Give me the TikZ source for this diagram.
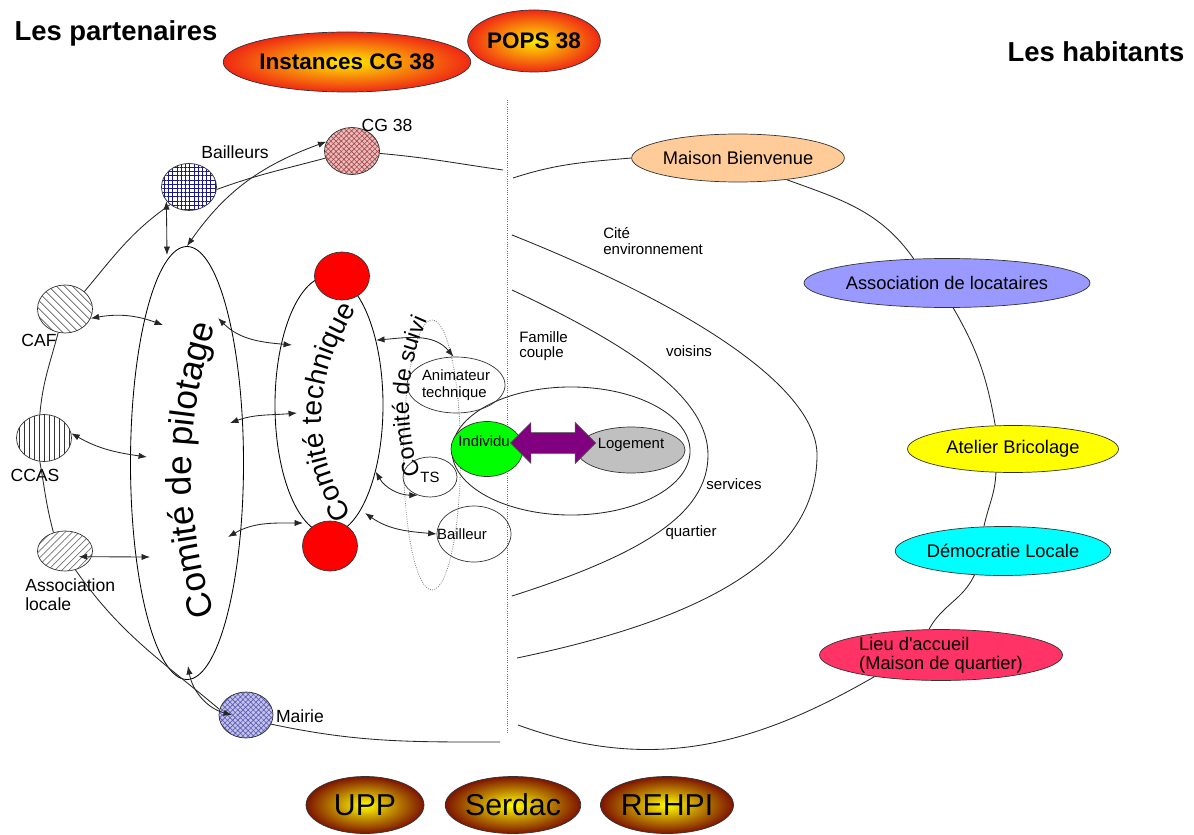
\documentclass[tikz,border=0pt]{standalone}
\usepackage{fontspec}
\setmainfont{Liberation Sans}
\usepackage{xcolor}
\usepackage{tikz}
\usetikzlibrary{shapes.geometric,shapes.arrows,arrows.meta,patterns,patterns.meta,decorations.text}

\newlength{\pxu}
\setlength{\pxu}{0.025cm}

\definecolor{peche}{RGB}{255,204,153}
\definecolor{lavande}{RGB}{153,153,255}
\definecolor{jaune}{RGB}{255,255,0}
\definecolor{turquoise}{RGB}{0,255,255}
\definecolor{framboise}{RGB}{255,51,102}
\definecolor{vert}{RGB}{0,255,0}
\definecolor{rouge}{RGB}{255,0,0}
\definecolor{prune}{RGB}{128,0,128}
\definecolor{grisclair}{RGB}{192,192,192}
\definecolor{flamme}{RGB}{240,40,20}
\definecolor{soleil}{RGB}{255,235,0}
\definecolor{brique}{RGB}{125,20,0}
\definecolor{rose}{RGB}{235,190,190}
\definecolor{brun}{RGB}{170,70,70}
\definecolor{marine}{RGB}{25,25,140}
\definecolor{mauve}{RGB}{195,195,235}
\definecolor{pervenche}{RGB}{90,90,180}

\tikzset{
  lien/.style={line width=0.6pt, draw=black!85},
  bi/.style={line width=0.6pt, draw=black!85, {Latex[length=6pt,width=4.5pt]}-{Latex[length=6pt,width=4.5pt]}},
  titre/.style={inner sep=0pt, font=\bfseries\fontsize{19.5}{22}\selectfont},
  etiquette/.style={inner sep=0pt, font=\fontsize{12.5}{13.5}\selectfont},
  zone/.style={inner sep=0pt, font=\fontsize{10.7}{10.8}\selectfont, align=left},
  partenaire/.style={ellipse, draw=black!80, line width=0.5pt, inner sep=0pt, minimum width=55\pxu, minimum height=47\pxu, preaction={fill=white}},
  comite/.style={ellipse, draw=black, line width=0.6pt, inner sep=0pt},
  pastille/.style={ellipse, draw=black!80, line width=0.5pt, fill=rouge, inner sep=0pt, minimum width=55\pxu, minimum height=48\pxu},
  membre/.style={ellipse, draw=black!80, line width=0.5pt, inner sep=0pt, font=\fontsize{10.6}{12}\selectfont},
  habitant/.style={ellipse, draw=black!80, line width=0.5pt, inner sep=0pt, font=\fontsize{13}{13.5}\selectfont},
  instancehaut/.style={ellipse, draw=black!80, line width=0.5pt, inner sep=0pt, inner color=soleil, outer color=flamme, font=\bfseries\fontsize{16}{18}\selectfont},
  instancebas/.style={ellipse, draw=black!80, line width=0.5pt, inner sep=0pt, inner color=jaune, outer color=brique, minimum height=57\pxu, font=\fontsize{21.5}{24}\selectfont},
  courbe/.style={decorate, decoration={text along path, text align=center, text={#1}}},
}

\begin{document}
\begin{tikzpicture}[x=0.025cm,y=-0.025cm]
  \fill[white] (0,0) rectangle (1194,834);
  \useasboundingbox (0,0) rectangle (1194,834);

  % separation
  \draw[densely dotted, line width=0.6pt, black!55] (507,100) -- (507,733);

  % zones autour de l'individu
  \draw[lien] (512,235) .. controls (700,310) and (817,390) .. (817,455) .. controls (817,560) and (700,620) .. (517,658);
  \draw[lien] (512,290) .. controls (640,350) and (708,400) .. (708,455) .. controls (708,515) and (640,555) .. (512,596);
  \draw[lien] (571,451) ellipse [x radius=2.975cm, y radius=1.6cm];
  \node[zone, anchor=west] (z-cite) at (603,241) {Cité\\environnement};
  \node[zone, anchor=west] (z-famille) at (519,346) {Famille\\couple};
  \node[zone] (z-voisins) at (689,351) {voisins};
  \node[zone] (z-services) at (734,484) {services};
  \node[zone] (z-quartier) at (691,533) {quartier};

  % titres
  \node[titre] (partenaires) at (116,33) {Les partenaires};
  \node[titre] (habitants) at (1096,52) {Les habitants};

  % instances
  \node[instancehaut, minimum width=241\pxu, minimum height=60\pxu] (instances) at (347,62) {Instances CG 38};
  \node[instancehaut, minimum width=130\pxu, minimum height=62\pxu] (pops) at (534,41) {POPS 38};
  \foreach \nom/\x/\w in {UPP/365/118, Serdac/513/133, REHPI/667/133}
    \node[instancebas, minimum width=\w\pxu] (\nom) at (\x,805) {\nom};

  % partenaires
  \node[partenaire, preaction={fill=rose}, pattern={Hatch[angle=45,distance=2.6pt,line width=0.45pt]}, pattern color=brun] (cg) at (352,151) {};
  \node[partenaire, pattern={Hatch[angle=0,distance=3pt,line width=0.7pt]}, pattern color=marine] (bailleurs) at (189,187) {};
  \node[partenaire, minimum height=48\pxu, pattern={Lines[angle=-45,distance=4pt,line width=0.5pt]}, pattern color=black!75] (caf) at (65,309) {};
  \node[partenaire, pattern={Lines[angle=90,distance=3.5pt,line width=0.5pt]}, pattern color=black!80] (ccas) at (44,438) {};
  \node[partenaire, minimum height=40\pxu, pattern={Lines[angle=45,distance=3.5pt,line width=0.5pt]}, pattern color=black!55] (assoc) at (65,551) {};
  \node[partenaire, minimum width=54\pxu, minimum height=46\pxu, preaction={fill=mauve}, pattern={Hatch[angle=45,distance=2.6pt,line width=0.45pt]}, pattern color=pervenche] (mairie) at (246,715) {};
  \node[etiquette] (l-cg) at (387,125) {CG 38};
  \node[etiquette] (l-bailleurs) at (235,152) {Bailleurs};
  \node[etiquette] (l-caf) at (39,340) {CAF};
  \node[etiquette] (l-ccas) at (35,475) {CCAS};
  \node[etiquette, anchor=west, align=left] (l-assoc) at (25,595) {Association\\locale};
  \node[etiquette] (l-mairie) at (300,716) {Mairie};

  % comites
  \node[comite, minimum width=113\pxu, minimum height=433\pxu] (pilotage) at (187,463) {};
  \node[comite, minimum width=108\pxu, minimum height=258\pxu] (technique) at (329,405) {};
  \node[pastille] (rouge-haut) at (342,276) {};
  \node[pastille, minimum height=50\pxu] (rouge-bas) at (330,546) {};
  \node[comite, draw=black!50, densely dotted, minimum width=57\pxu, minimum height=270\pxu] (suivi) at (432,455) {};
  \path[courbe={|\fontsize{25}{30}\selectfont|Comité de pilotage}] (225,645) .. controls (180,520) and (180,420) .. (225,295);
  \path[courbe={|\fontsize{20}{24}\selectfont|Comité technique}] (360,530) .. controls (308,450) and (308,380) .. (365,295);
  \path[courbe={|\fontsize{16.5}{20}\selectfont|Comité de suivi}] (425,490) .. controls (402,420) and (402,370) .. (435,305);

  % membres du suivi
  \node[membre, minimum width=98\pxu, minimum height=56\pxu, align=left] (animateur) at (456,385) {Animateur\\technique};
  \node[membre, minimum width=54\pxu, minimum height=40\pxu] (ts) at (430,477) {TS};
  \node[membre, minimum width=74\pxu, minimum height=56\pxu] (bailleur) at (474,534) {};
  \node[membre, draw=none] (l-bailleur) at (462,534) {Bailleur};

  % individu et logement
  \node[membre, fill=vert, minimum width=72\pxu, minimum height=55\pxu] (individu) at (487,449) {};
  \node[membre, draw=none] (l-individu) at (484,441) {Individu};
  \node[membre, fill=grisclair, minimum width=108\pxu, minimum height=46\pxu] (logement) at (631,450) {};
  \node[membre, draw=none] (l-logement) at (631,445) {Logement};
  \node[double arrow, draw=black!70, line width=0.5pt, fill=prune, minimum height=85\pxu, minimum width=40\pxu,
        inner xsep=0pt, inner ysep=10\pxu, double arrow head extend=10\pxu] (fleche) at (553,443) {};

  % habitants
  \node[habitant, fill=peche, minimum width=210\pxu, minimum height=48\pxu] (maison) at (738,158) {Maison Bienvenue};
  \node[habitant, fill=lavande, minimum width=276\pxu, minimum height=49\pxu] (locataires) at (947,283) {Association de locataires};
  \node[habitant, fill=jaune, minimum width=211\pxu, minimum height=47\pxu] (atelier) at (1013,449) {Atelier Bricolage};
  \node[habitant, fill=turquoise, minimum width=210\pxu, minimum height=49\pxu] (democratie) at (1003,551) {Démocratie Locale};
  \node[habitant, fill=framboise, minimum width=243\pxu, minimum height=47\pxu, align=left] (lieu) at (941,655) {Lieu d\textquotesingle accueil\\(Maison de quartier)};

  % cercle des partenaires
  \coordinate (g-haut) at (503,170);
  \coordinate (g-bas) at (500,742);
  \draw[lien] (cg.-5) to[out=-5,in=172] (g-haut);
  \draw[lien] (cg.195) to[out=195,in=20] (bailleurs.-5);
  \draw[lien] (bailleurs.223) to[out=215,in=50] (caf.42);
  \draw[lien] (caf.-106) to[out=-105,in=85] (ccas.100);
  \draw[lien] (ccas.-100) to[out=-80,in=105] (assoc.122);
  \draw[lien] (assoc.-61) to[out=-55,in=140] (mairie.168);
  \draw[lien] (mairie.-20) to[out=-12,in=180] (g-bas);

  % cercle des habitants
  \coordinate (h-haut) at (513,178);
  \coordinate (h-bas) at (518,725);
  \draw[lien] (h-haut) to[out=18,in=185] (maison.west);
  \draw[lien] (maison.-24) to[out=-20,in=125] (locataires.144);
  \draw[lien] (locataires.-76) to[out=-60,in=100] (atelier.127);
  \draw[lien] (atelier.-126) to[out=-92,in=78] (democratie.128);
  \draw[lien] (democratie.-140) to[out=-115,in=62] (lieu.115);
  \draw[lien] (lieu.-162) to[out=-150,in=-20] (h-bas);

  % echanges avec le comite de pilotage
  \coordinate (p-bail) at (167,255);
  \coordinate (p-caf) at (163,325);
  \coordinate (p-ccas) at (147,457);
  \coordinate (p-assoc) at (150,557);
  \coordinate (p-mairie) at (188,666);
  \coordinate (p-t1) at (218,318);
  \coordinate (p-t2) at (230,423);
  \coordinate (p-t3) at (228,537);
  \coordinate (t-1) at (292,345);
  \coordinate (t-2) at (297,413);
  \coordinate (t-3) at (303,523);
  \coordinate (t-bas) at (365,513);
  \draw[bi] (bailleurs.212) -- (p-bail);
  \draw[bi] (pilotage.north) to[out=55,in=200] (cg.160);
  \draw[bi] (caf.-20) to[out=10,in=160] (p-caf);
  \draw[bi] (ccas.10) to[out=-30,in=172] (p-ccas);
  \draw[bi] ([xshift=-13\pxu]assoc.-12) -- (p-assoc);
  \draw[bi] (p-mairie) to[out=-80,in=165] ([xshift=-14\pxu]mairie.center);
  \draw[bi] (p-t1) to[out=-45,in=175] (t-1);
  \draw[bi] (p-t2) to[out=20,in=185] (t-2);
  \draw[bi] (p-t3) to[out=30,in=180] (t-3);

  % echanges avec le comite de suivi
  \draw[bi] (technique.54) to[out=5,in=130] (animateur.95);
  \draw[bi] (technique.-55) to[out=-60,in=180] (ts.-124);
  \draw[bi] (t-bas) to[out=-35,in=175] (bailleur.west);
\end{tikzpicture}
\end{document}
